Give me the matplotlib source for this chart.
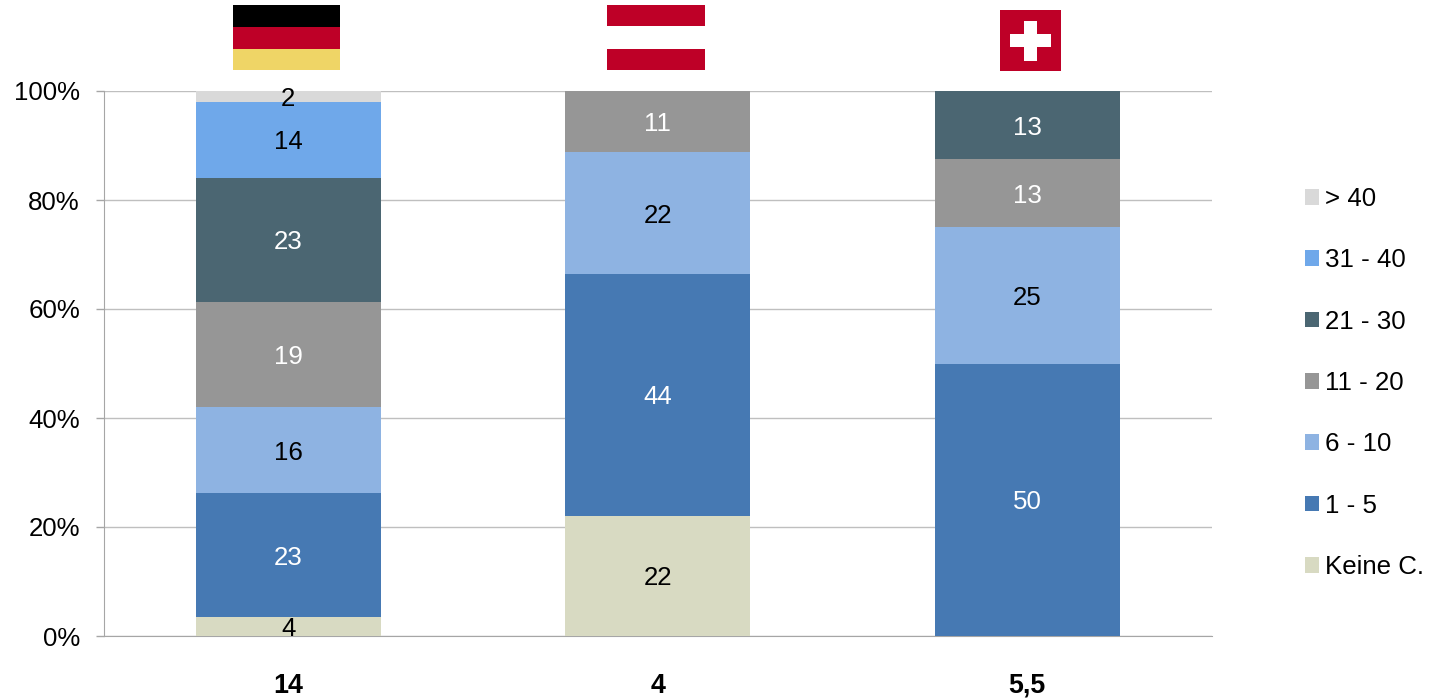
"""Stacked percentage bars for Germany, Austria and Switzerland."""

import matplotlib

matplotlib.use("Agg")
import matplotlib.pyplot as plt
from matplotlib.patches import Patch, Rectangle

plt.rcParams["font.family"] = ["Liberation Sans", "DejaVu Sans"]

W, H = 1432, 699
FONT = 18.6

categories = ["14", "4", "5,5"]
groups = ["Keine C.", "1 - 5", "6 - 10", "11 - 20", "21 - 30", "31 - 40", "> 40"]

keine = [3.5, 22.1, 0]
g_1_5 = [22.7, 44.3, 50]
g_6_10 = [15.8, 22.4, 25]
g_11_20 = [19.3, 11.2, 12.5]
g_21_30 = [22.8, 0, 12.5]
g_31_40 = [13.9, 0, 0]
g_40 = [2.0, 0, 0]
series = [keine, g_1_5, g_6_10, g_11_20, g_21_30, g_31_40, g_40]

# printed labels are rounded and do not always equal the bar height
labels = [
    ["4", "22", ""],
    ["23", "44", "50"],
    ["16", "22", "25"],
    ["19", "11", "13"],
    ["23", "", "13"],
    ["14", "", ""],
    ["2", "", ""],
]

colors = ["#d8dac2", "#4679b3", "#8eb3e2", "#969696", "#4b6672", "#6fa8ea", "#d9d9d9"]
text_colors = ["black", "white", "black", "white", "white", "black", "black"]


def add_flag_stripe(fig, x0, y0, x1, y1, color):
    """Add a filled rectangle given in picture pixels (y from the top)."""
    fig.add_artist(
        Rectangle(
            (x0 / W, 1 - y1 / H),
            (x1 - x0) / W,
            (y1 - y0) / H,
            transform=fig.transFigure,
            facecolor=color,
            edgecolor="none",
        )
    )


fig = plt.figure(figsize=(W / 100, H / 100), dpi=100)
ax = fig.add_axes([103.5 / W, 1 - 636 / H, 1108.5 / W, 545 / H])

xs = range(len(categories))
bottom = [0.0] * len(categories)
for values, texts, color, text_color in zip(series, labels, colors, text_colors):
    ax.bar(xs, values, width=0.5, bottom=bottom, color=color, zorder=3)
    for x, value, base, text in zip(xs, values, bottom, texts):
        if text:
            ax.annotate(
                text,
                (x, base + value / 2),
                xytext=(0, -1.8),
                textcoords="offset points",
                ha="center",
                va="center",
                color=text_color,
                fontsize=FONT,
                zorder=4,
            )
    bottom = [b + v for b, v in zip(bottom, values)]

ax.set_xlim(-0.5, 2.5)
ax.set_ylim(0, 100)
ax.set_yticks(range(0, 101, 20))
ax.set_yticklabels([f"{v}%" for v in range(0, 101, 20)], fontsize=FONT)
ax.set_xticks(list(xs))
ax.set_xticklabels(categories, fontsize=19.4, fontweight="bold")
ax.tick_params(axis="x", length=0, pad=26.5)
ax.tick_params(axis="y", length=6, width=1, color="#a6a6a6", pad=11)
ax.grid(axis="y", color="#bfbfbf", linewidth=1, zorder=0)
for side in ["top", "right"]:
    ax.spines[side].set_visible(False)
for side in ["left", "bottom"]:
    ax.spines[side].set_color("#a6a6a6")
    ax.spines[side].set_zorder(2)

handles = [Patch(facecolor=c, label=g) for c, g in zip(colors, groups)][::-1]
fig.legend(
    handles=handles,
    loc="center left",
    bbox_to_anchor=(1282 / W, 1 - 383 / H),
    frameon=False,
    fontsize=FONT,
    handlelength=0.55,
    handleheight=0.55,
    handletextpad=0.22,
    labelspacing=1.445,
)

# flags
add_flag_stripe(fig, 233, 5, 340, 27, "#000000")
add_flag_stripe(fig, 233, 27, 340, 49, "#be0027")
add_flag_stripe(fig, 233, 49, 340, 70, "#efd566")

add_flag_stripe(fig, 607, 5, 705, 26, "#be0027")
add_flag_stripe(fig, 607, 26, 705, 49, "#ffffff")
add_flag_stripe(fig, 607, 49, 705, 70, "#be0027")

add_flag_stripe(fig, 1000, 10, 1061, 71, "#be0027")
add_flag_stripe(fig, 1024, 21, 1037, 61, "#ffffff")
add_flag_stripe(fig, 1010, 34, 1051, 47, "#ffffff")

fig.savefig("out.png", dpi=100)
